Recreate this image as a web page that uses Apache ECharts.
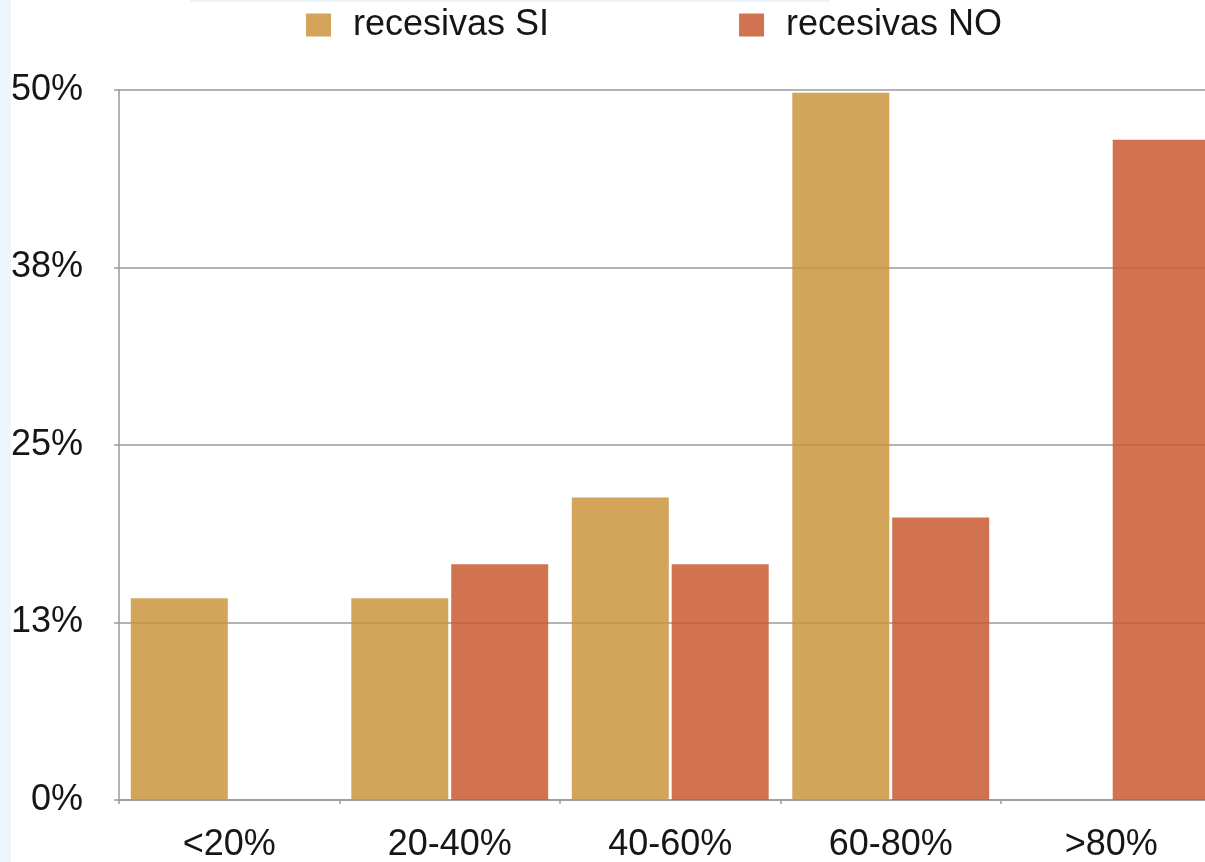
<!DOCTYPE html>
<html>
<head>
<meta charset="utf-8">
<script src="https://cdn.jsdelivr.net/npm/echarts@6/dist/echarts.min.js"></script>
<style>
html,body{margin:0;padding:0;background:#fff;}
#chart{width:1205px;height:862px;}
</style>
</head>
<body>
<div id="chart"></div>
<script>
var categories = ['<20%', '20-40%', '40-60%', '60-80%', '>80%'];
var seriesNames = ['recesivas SI', 'recesivas NO'];
var valuesSI = [14.2, 14.2, 21.3, 49.8, 0];
var valuesNO = [0, 16.6, 16.6, 19.9, 46.5];
var yTicks = [0, 12.5, 25, 37.5, 50];

var chart = echarts.init(document.getElementById('chart'));
var font = '"Liberation Sans", Arial, Helvetica, sans-serif';
chart.setOption({
  backgroundColor: '#ffffff',
  animation: false,
  graphic: [
    {type: 'rect', shape: {x: 0, y: 0, width: 11, height: 862}, style: {fill: '#edf5fd'}, z: -10},
    {type: 'rect', shape: {x: 190, y: 0, width: 640, height: 2}, style: {fill: '#eef5fd'}, z: -10}
  ],
  legend: {
    left: 306,
    top: 7,
    padding: 0,
    itemWidth: 25,
    itemHeight: 23,
    itemGap: 190,
    icon: 'rect',
    textStyle: {fontFamily: font, fontSize: 36, color: '#161616', padding: [0, 0, 0, 17]},
    data: seriesNames
  },
  grid: {left: 119, top: 90, width: 1102.5, bottom: 62, containLabel: false, outerBoundsMode: 'none'},
  xAxis: {
    type: 'category',
    data: categories,
    axisLine: {lineStyle: {color: '#9a9a9a', width: 1.5}},
    axisTick: {show: true, length: 4, lineStyle: {color: '#9a9a9a', width: 1.5}},
    axisLabel: {fontFamily: font, fontSize: 36, color: '#161616', margin: 27},
    splitLine: {show: false}
  },
  yAxis: {
    type: 'value',
    min: 0,
    max: 50,
    interval: 12.5,
    axisLine: {show: true, lineStyle: {color: '#9a9a9a', width: 1.5}},
    axisTick: {show: true, length: 5, lineStyle: {color: '#9a9a9a', width: 1.5}},
    axisLabel: {
      fontFamily: font, fontSize: 36, color: '#161616', margin: 36,
      formatter: function (v) { return Math.round(v) + '%'; }
    },
    splitLine: {show: true, lineStyle: {color: '#9a9a9a', width: 1.5}}
  },
  series: [
    {
      name: seriesNames[0], type: 'bar', data: valuesSI,
      barWidth: 97, barGap: '3%',
      itemStyle: {color: '#cb953d', opacity: 0.85}
    },
    {
      name: seriesNames[1], type: 'bar', data: valuesNO,
      barWidth: 97,
      itemStyle: {color: '#c95a31', opacity: 0.85}
    }
  ]
});
</script>
</body>
</html>
